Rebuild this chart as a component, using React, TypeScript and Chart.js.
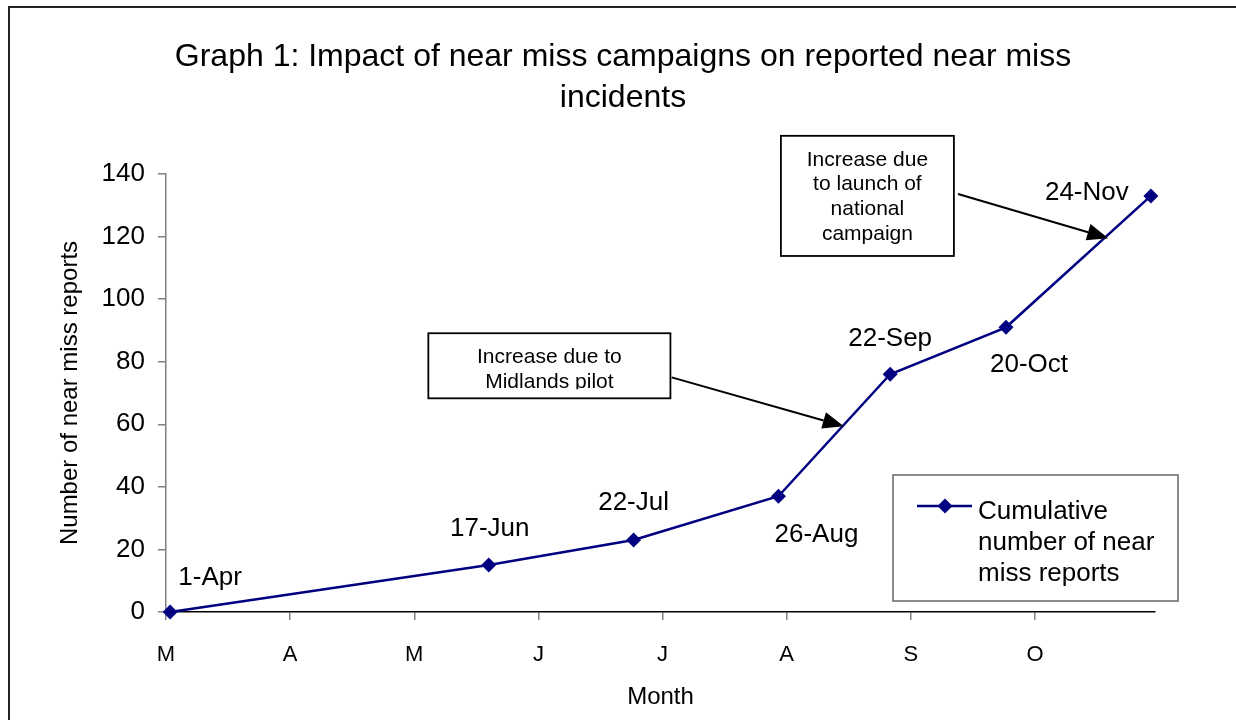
import React, { useEffect, useRef } from "react";
import { Chart, registerables } from "chart.js";

Chart.register(...registerables);

// ---------- data ----------
const pointDateLabels = ["1-Apr", "17-Jun", "22-Jul", "26-Aug", "22-Sep", "20-Oct", "24-Nov"];
// day number counted from 31-Mar (axis origin)
const pointDays = [1, 78, 113, 148, 175, 203, 238];
const cumulativeReports = [0, 15, 23, 37, 76, 91, 133];

const monthTickDays = [0, 30, 60, 90, 120, 150, 180, 210];
const monthTickLabels = ["M", "A", "M", "J", "J", "A", "S", "O"];

const titleLines = ["Graph 1: Impact of near miss campaigns on reported near miss", "incidents"];
const seriesName = "Cumulative number of near miss reports";
const legendLines = ["Cumulative", "number of near", "miss reports"];
const xTitle = "Month";
const yTitle = "Number of near miss reports";

const annotationTexts = [
  ["Increase due to", "Midlands pilot"],
  ["Increase due", "to launch of", "national", "campaign"],
];

// ---------- placement / style (not data) ----------
const labelOffsets = [
  { dx: 40, dy: -34 },
  { dx: 1, dy: -36 },
  { dx: 0, dy: -37 },
  { dx: 38, dy: 39 },
  { dx: 0, dy: -35 },
  { dx: 23, dy: 38 },
  { dx: -64, dy: -3 },
];

// annotation boxes and arrows in data coordinates (x: days, y: reports)
const annotationGeom = [
  { x0: 63.4, x1: 121.9, y0: 89.1, y1: 68.3, fx: 122.2, fy: 75.0, tx: 163.8, ty: 59.4, clipBottom: 9 },
  { x0: 148.6, x1: 190.4, y0: 152.2, y1: 113.8, fx: 191.4, fy: 133.6, tx: 227.7, ty: 119.5, clipBottom: 0 },
];

const FONT = "'Liberation Sans', Arial, Helvetica, sans-serif";
const NAVY = "#000080";

function diamond(ctx: CanvasRenderingContext2D, x: number, y: number, r: number) {
  ctx.beginPath();
  ctx.moveTo(x, y - r);
  ctx.lineTo(x + r, y);
  ctx.lineTo(x, y + r);
  ctx.lineTo(x - r, y);
  ctx.closePath();
  ctx.fill();
}

function arrow(ctx: CanvasRenderingContext2D, x1: number, y1: number, x2: number, y2: number) {
  const ang = Math.atan2(y2 - y1, x2 - x1);
  const len = 21;
  const hw = 8.5;
  const bx = x2 - Math.cos(ang) * len;
  const by = y2 - Math.sin(ang) * len;
  ctx.strokeStyle = "#000";
  ctx.lineWidth = 2;
  ctx.beginPath();
  ctx.moveTo(x1, y1);
  ctx.lineTo(bx, by);
  ctx.stroke();
  ctx.fillStyle = "#000";
  ctx.beginPath();
  ctx.moveTo(x2, y2);
  ctx.lineTo(bx + Math.sin(ang) * hw, by - Math.cos(ang) * hw);
  ctx.lineTo(bx - Math.sin(ang) * hw, by + Math.cos(ang) * hw);
  ctx.closePath();
  ctx.fill();
}

const decorPlugin = {
  id: "decor",
  beforeDraw(chart: any) {
    const ctx: CanvasRenderingContext2D = chart.ctx;
    ctx.save();
    ctx.fillStyle = "#fff";
    ctx.fillRect(0, 0, chart.width, chart.height);
    // outer frame
    ctx.strokeStyle = "#222";
    ctx.lineWidth = 2;
    ctx.strokeRect(9, 7, chart.width + 40, chart.height + 40);
    // title
    ctx.fillStyle = "#000";
    ctx.font = `32px ${FONT}`;
    ctx.textAlign = "center";
    ctx.textBaseline = "middle";
    titleLines.forEach((t, i) => ctx.fillText(t, 623, 57 + i * 41));
    ctx.restore();
  },
  afterDatasetsDraw(chart: any) {
    const ctx: CanvasRenderingContext2D = chart.ctx;
    const xs = chart.scales.x;
    const ys = chart.scales.y;
    const ca = chart.chartArea;
    ctx.save();
    // data labels
    ctx.fillStyle = "#000";
    ctx.font = `26px ${FONT}`;
    ctx.textAlign = "center";
    ctx.textBaseline = "middle";
    pointDateLabels.forEach((lab, i) => {
      const px = xs.getPixelForValue(pointDays[i]);
      const py = ys.getPixelForValue(cumulativeReports[i]);
      ctx.fillText(lab, px + labelOffsets[i].dx, py + labelOffsets[i].dy);
    });

    // annotations
    annotationGeom.forEach((g, k) => {
      const l = xs.getPixelForValue(g.x0);
      const r = xs.getPixelForValue(g.x1);
      const t = ys.getPixelForValue(g.y0);
      const b = ys.getPixelForValue(g.y1);
      ctx.fillStyle = "#fff";
      ctx.fillRect(l, t, r - l, b - t);
      ctx.strokeStyle = "#000";
      ctx.lineWidth = 1.8;
      ctx.strokeRect(l, t, r - l, b - t);
      ctx.save();
      ctx.beginPath();
      ctx.rect(l, t, r - l, b - t - g.clipBottom);
      ctx.clip();
      ctx.fillStyle = "#000";
      ctx.font = `21px ${FONT}`;
      ctx.textAlign = "center";
      ctx.textBaseline = "middle";
      annotationTexts[k].forEach((line, j) => ctx.fillText(line, (l + r) / 2, t + 24 + j * 24.7));
      ctx.restore();
      arrow(
        ctx,
        xs.getPixelForValue(g.fx),
        ys.getPixelForValue(g.fy),
        xs.getPixelForValue(g.tx),
        ys.getPixelForValue(g.ty)
      );
    });

    // legend
    const lx = ca.right - 262;
    const ly = ca.bottom - 137;
    ctx.fillStyle = "#fff";
    ctx.fillRect(lx, ly, 285, 126);
    ctx.strokeStyle = "#666";
    ctx.lineWidth = 1.5;
    ctx.strokeRect(lx, ly, 285, 126);
    ctx.strokeStyle = NAVY;
    ctx.lineWidth = 2.5;
    ctx.beginPath();
    ctx.moveTo(lx + 24, ly + 31);
    ctx.lineTo(lx + 79, ly + 31);
    ctx.stroke();
    ctx.fillStyle = NAVY;
    diamond(ctx, lx + 52, ly + 31, 7.5);
    ctx.fillStyle = "#000";
    ctx.font = `26px ${FONT}`;
    ctx.textAlign = "left";
    ctx.textBaseline = "middle";
    legendLines.forEach((t, i) => ctx.fillText(t, lx + 85, ly + 37 + i * 31));
    ctx.restore();
  },
};

export default function App() {
  const ref = useRef<HTMLCanvasElement | null>(null);
  useEffect(() => {
    if (!ref.current) return;
    Chart.defaults.font.family = FONT;
    const chart = new Chart(ref.current, {
      type: "line",
      data: {
        datasets: [
          {
            label: seriesName,
            data: pointDays.map((d, i) => ({ x: d, y: cumulativeReports[i] })),
            borderColor: NAVY,
            backgroundColor: NAVY,
            borderWidth: 2.5,
            pointStyle: "rectRot",
            pointRadius: 7.5,
            pointBorderWidth: 0,
            pointBackgroundColor: NAVY,
            tension: 0,
            clip: { left: 10, top: 10, right: 4, bottom: 10 } as any,
          },
        ],
      },
      options: {
        animation: false,
        responsive: false,
        layout: { padding: { top: 174, right: 81, left: 0, bottom: 0 } },
        plugins: {
          legend: { display: false },
          title: { display: false },
          tooltip: { enabled: false },
        },
        scales: {
          x: {
            type: "linear",
            min: 0,
            max: 239,
            afterFit: (s: any) => {
              s.height = 108;
            },
            afterBuildTicks: (s: any) => {
              s.ticks = monthTickDays.map((v) => ({ value: v }));
            },
            ticks: {
              callback: (_v: any, i: number) => monthTickLabels[i],
              font: { size: 22 },
              color: "#000",
              padding: 22,
              autoSkip: false,
              maxRotation: 0,
            },
            grid: { drawOnChartArea: false, drawTicks: true, tickLength: 8, color: "#808080", lineWidth: 1.5 },
            border: { color: "#000", width: 1.5 },
            title: { display: true, text: xTitle, font: { size: 24 }, color: "#000", padding: { top: 0, bottom: 8 } },
          },
          y: {
            min: 0,
            max: 140,
            afterFit: (s: any) => {
              s.width = 166;
            },
            ticks: { stepSize: 20, font: { size: 26 }, color: "#000", padding: 13 },
            grid: { drawOnChartArea: false, drawTicks: true, tickLength: 8, color: "#808080", lineWidth: 1.5 },
            border: { color: "#808080", width: 1.5 },
            title: { display: true, text: yTitle, font: { size: 24 }, color: "#000", padding: { top: 56, bottom: 0 } },
          },
        },
      },
      plugins: [decorPlugin],
    } as any);
    return () => chart.destroy();
  }, []);
  return (
    <div style={{ position: "fixed", left: 0, top: 0, width: 1236, height: 720 }}>
      <canvas ref={ref} width={1236} height={720} style={{ display: "block", width: 1236, height: 720 }} />
    </div>
  );
}
